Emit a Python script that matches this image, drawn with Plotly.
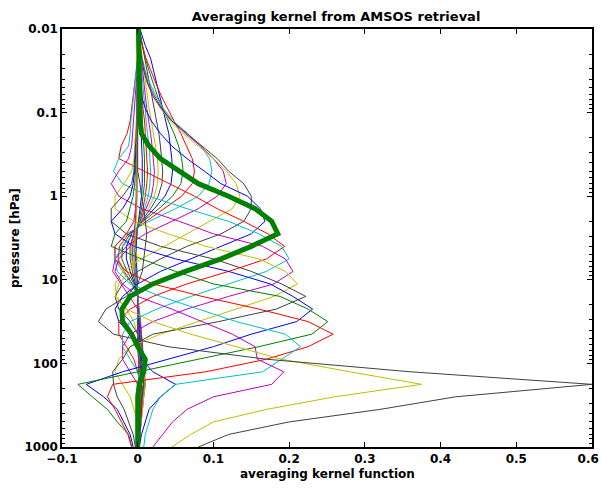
import plotly.graph_objects as go

# pressure levels [hPa], top to bottom
pressure_hpa = [0.01, 0.0158, 0.0224, 0.0316, 0.0447, 0.0631, 0.0891, 0.126, 0.178, 0.251,
                0.355, 0.501, 0.708, 1.0, 1.41, 2.0, 2.82, 3.98, 5.62, 7.94,
                11.2, 15.8, 22.4, 31.6, 44.7, 63.1, 89.1, 126, 178, 251,
                355, 501, 708, 1000]

# averaging kernel rows (one per retrieval level, top to bottom)
ak01 = [0.000,0.001,0.001,0.002,0.002,0.003,0.003,0.004,0.005,0.005,0.006,0.006,0.006,0.005,0.003,0.001,-0.001,-0.002,-0.002,-0.001,0.000,0.000,0.000,0.000,0.000,0.000,0.001,0.001,0.001,0.001,0.000,0.000,0.000,0.000]
ak02 = [0.000,0.001,0.002,0.003,0.003,0.004,0.005,0.006,0.007,0.008,0.009,0.009,0.009,0.007,0.005,0.001,-0.001,-0.003,-0.003,-0.002,-0.001,0.000,0.000,0.000,0.001,0.001,0.001,0.001,0.001,0.001,0.001,0.000,0.000,0.000]
ak03 = [0.001,0.002,0.003,0.004,0.005,0.006,0.007,0.009,0.010,0.011,0.012,0.013,0.012,0.010,0.007,0.002,-0.002,-0.004,-0.004,-0.003,-0.001,0.000,0.000,0.001,0.001,0.001,0.001,0.002,0.002,0.001,0.001,0.001,0.000,0.000]
ak04 = [0.001,0.002,0.004,0.005,0.006,0.008,0.010,0.011,0.013,0.015,0.016,0.017,0.016,0.014,0.009,0.003,-0.003,-0.005,-0.005,-0.003,-0.001,0.000,0.000,0.001,0.001,0.001,0.002,0.002,0.002,0.002,0.001,0.001,0.000,0.000]
ak05 = [0.001,0.003,0.005,0.007,0.008,0.010,0.012,0.015,0.017,0.019,0.021,0.022,0.021,0.018,0.011,0.003,-0.003,-0.007,-0.007,-0.004,-0.002,0.000,0.000,0.001,0.001,0.002,0.002,0.003,0.003,0.002,0.002,0.001,0.001,0.000]
ak06 = [0.001,0.004,0.006,0.008,0.010,0.013,0.015,0.018,0.021,0.023,0.026,0.027,0.026,0.022,0.014,0.004,-0.004,-0.008,-0.008,-0.005,-0.002,0.000,0.001,0.001,0.002,0.002,0.003,0.003,0.004,0.003,0.002,0.001,0.001,0.000]
ak07 = [0.002,0.006,0.010,0.013,0.016,0.019,0.022,0.025,0.028,0.030,0.032,0.033,0.032,0.027,0.017,0.005,-0.005,-0.010,-0.010,-0.007,-0.003,0.000,0.001,0.001,0.002,0.003,0.003,0.004,0.004,0.003,0.002,0.002,0.001,0.000]
ak08 = [0.003,0.010,0.017,0.021,0.025,0.029,0.033,0.037,0.041,0.043,0.045,0.046,0.044,0.036,0.022,0.006,-0.008,-0.015,-0.015,-0.010,-0.004,0.000,0.001,0.002,0.003,0.004,0.004,0.005,0.005,0.004,0.003,0.002,0.001,0.001]
ak09 = [0.002,0.006,0.010,0.015,0.020,0.026,0.033,0.041,0.048,0.054,0.058,0.060,0.057,0.046,0.028,0.007,-0.010,-0.020,-0.021,-0.014,-0.005,0.000,0.002,0.003,0.004,0.005,0.006,0.006,0.007,0.005,0.004,0.003,0.002,0.001]
ak10 = [0.002,0.006,0.011,0.017,0.024,0.031,0.039,0.048,0.057,0.065,0.072,0.075,0.072,0.058,0.035,0.010,-0.012,-0.024,-0.026,-0.018,-0.007,0.000,0.002,0.004,0.005,0.006,0.007,0.008,0.008,0.006,0.004,0.003,0.002,0.001]
ak11 = [0.001,0.003,0.006,0.010,0.016,0.024,0.034,0.047,0.066,0.083,0.095,0.098,0.094,0.080,0.050,0.015,-0.015,-0.030,-0.030,-0.020,-0.008,0.000,0.002,0.004,0.005,0.006,0.007,0.008,0.009,0.007,0.005,0.004,0.003,0.002]
ak12 = [0.001,0.003,0.005,0.009,0.014,0.022,0.032,0.045,0.063,0.083,0.100,0.113,0.117,0.105,0.080,0.045,0.010,-0.015,-0.030,-0.033,-0.022,-0.010,0.000,0.003,0.005,0.006,0.008,0.009,0.010,0.008,0.006,0.004,0.003,0.002]
ak13 = [0.001,0.003,0.005,0.008,0.013,0.020,0.030,0.043,0.060,0.080,0.100,0.117,0.130,0.135,0.125,0.095,0.065,0.035,0.005,-0.020,-0.030,-0.028,-0.015,-0.005,0.000,0.004,0.006,0.008,0.010,0.008,0.006,0.004,0.003,0.002]
ak14 = [0.001,0.003,0.005,0.008,0.013,0.020,0.031,0.045,0.065,0.086,0.105,0.120,0.140,0.150,0.150,0.140,0.110,0.065,0.030,0.000,-0.020,-0.030,-0.025,-0.010,0.000,0.003,0.005,0.006,0.008,0.006,0.005,0.004,0.003,0.002]
ak15 = [0.000,0.002,0.003,0.004,0.004,0.005,0.010,0.018,0.030,0.045,0.065,0.088,0.110,0.145,0.162,0.168,0.150,0.110,0.070,0.030,0.000,-0.020,-0.030,-0.025,-0.010,0.000,0.005,0.020,0.050,0.030,0.015,0.010,0.005,0.002]
ak16 = [0.001,0.001,0.002,0.002,0.002,0.003,0.003,0.003,0.005,0.015,0.030,0.055,0.080,0.120,0.155,0.177,0.185,0.150,0.110,0.063,0.020,-0.010,-0.021,-0.020,-0.008,0.000,0.010,0.008,0.002,0.000,0.000,0.000,0.000,0.000]
ak17 = [0.000,0.000,0.000,-0.002,-0.004,-0.006,-0.008,-0.010,-0.014,-0.022,-0.025,0.008,0.040,0.075,0.105,0.140,0.172,0.194,0.170,0.120,0.065,0.020,-0.010,-0.025,-0.025,-0.015,-0.005,0.000,0.005,0.004,0.003,0.002,0.001,0.000]
ak18 = [0.000,0.000,0.000,-0.002,-0.004,-0.006,-0.008,-0.009,-0.010,-0.012,-0.025,-0.032,-0.020,0.015,0.065,0.120,0.160,0.190,0.200,0.170,0.120,0.070,0.025,-0.010,-0.020,-0.020,-0.010,0.000,0.003,0.003,0.002,0.001,0.001,0.000]
ak19 = [0.000,0.000,0.000,0.000,-0.002,-0.003,-0.005,-0.006,-0.007,-0.008,-0.012,-0.025,-0.035,-0.025,0.005,0.055,0.100,0.165,0.195,0.205,0.180,0.120,0.065,0.020,-0.010,-0.020,-0.020,-0.010,0.000,0.002,0.002,0.001,0.000,0.000]
ak20 = [0.000,0.000,0.000,0.000,0.000,0.000,-0.001,-0.002,-0.003,-0.004,-0.005,-0.008,-0.018,-0.030,-0.030,-0.005,0.040,0.090,0.160,0.195,0.211,0.180,0.130,0.080,0.030,-0.010,-0.025,-0.030,-0.020,-0.010,-0.005,0.000,0.000,0.000]
ak21 = [0.000,0.000,0.000,0.000,0.000,0.000,0.000,-0.001,-0.002,-0.003,-0.004,-0.005,-0.008,-0.020,-0.035,-0.035,-0.015,0.030,0.100,0.150,0.190,0.222,0.183,0.107,0.020,-0.010,-0.020,-0.033,-0.032,-0.027,-0.018,-0.012,-0.006,-0.003]
ak22 = [0.000,0.000,0.000,0.000,0.000,0.000,0.000,0.000,-0.001,-0.002,-0.003,-0.004,-0.006,-0.010,-0.020,-0.035,-0.030,-0.005,0.050,0.120,0.175,0.205,0.231,0.210,0.150,0.100,0.040,-0.020,-0.068,-0.045,-0.027,-0.018,-0.010,-0.006]
ak23 = [0.000,0.000,0.000,0.000,0.000,0.000,0.000,0.000,0.000,-0.001,-0.002,-0.003,-0.004,-0.006,-0.010,-0.015,-0.030,-0.035,0.005,0.050,0.100,0.188,0.225,0.251,0.230,0.160,0.080,0.000,-0.079,-0.060,-0.040,-0.027,-0.012,-0.008]
ak24 = [0.000,0.000,0.000,0.000,0.000,0.000,0.000,0.000,0.000,0.000,-0.001,-0.001,-0.002,-0.002,-0.003,-0.005,-0.015,-0.030,-0.030,-0.015,0.020,0.085,0.160,0.225,0.258,0.225,0.170,0.090,-0.033,-0.040,-0.030,-0.022,-0.013,-0.008]
ak25 = [0.000,0.000,0.000,0.000,0.000,0.000,0.000,0.000,0.000,0.000,0.000,-0.001,-0.001,-0.002,-0.002,-0.003,-0.005,-0.020,-0.030,-0.027,-0.010,0.030,0.080,0.130,0.195,0.215,0.190,0.165,0.050,0.030,0.020,0.015,0.010,0.008]
ak26 = [0.000,0.000,0.000,0.000,0.000,0.000,0.000,0.000,0.000,0.000,0.000,0.000,-0.001,-0.001,-0.002,-0.003,-0.005,-0.010,-0.025,-0.030,-0.020,0.000,0.045,0.085,0.125,0.155,0.158,0.193,0.177,0.100,0.065,0.046,0.033,0.020]
ak27 = [0.000,0.000,0.000,0.000,0.000,0.000,0.000,0.000,0.000,0.000,0.000,0.000,0.000,-0.001,-0.001,-0.002,-0.003,-0.004,0.000,-0.010,-0.025,-0.030,-0.015,0.020,0.070,0.130,0.190,0.280,0.375,0.260,0.170,0.100,0.070,0.045]
ak28 = [0.000,0.000,0.000,0.000,0.000,0.000,0.000,0.000,0.000,0.000,0.000,0.000,0.003,0.005,0.008,0.010,0.012,0.010,0.008,0.006,0.000,-0.015,-0.042,-0.052,-0.032,0.040,0.170,0.360,0.600,0.420,0.320,0.200,0.120,0.080]

kernels = [ak01, ak02, ak03, ak04, ak05, ak06, ak07, ak08, ak09, ak10, ak11, ak12, ak13, ak14,
           ak15, ak16, ak17, ak18, ak19, ak20, ak21, ak22, ak23, ak24, ak25, ak26, ak27, ak28]
for k in kernels:
    assert len(k) == len(pressure_hpa)

highlight_index = 15  # ak16, drawn thick

# MATLAB classic colour order
color_order = ["#0000FF", "#008000", "#FF0000", "#00BFBF", "#BF00BF", "#BFBF00", "#404040"]

x_ticks = [-0.1, 0, 0.1, 0.2, 0.3, 0.4, 0.5, 0.6]
x_tick_labels = ["\u22120.1", "0", "0.1", "0.2", "0.3", "0.4", "0.5", "0.6"]
y_ticks = [0.01, 0.1, 1, 10, 100, 1000]
y_tick_labels = ["0.01", "0.1", "1", "10", "100", "1000"]
y_minor = [m * 10 ** e for e in range(-2, 3) for m in range(2, 10)]

fig = go.Figure()
for i, k in enumerate(kernels):
    if i == highlight_index:
        continue
    fig.add_trace(go.Scatter(x=k, y=pressure_hpa, mode="lines",
                             line=dict(color=color_order[i % 7], width=1),
                             showlegend=False, hoverinfo="skip"))
fig.add_trace(go.Scatter(x=kernels[highlight_index], y=pressure_hpa, mode="lines",
                         line=dict(color="#008000", width=5),
                         showlegend=False, hoverinfo="skip"))

font_family = "DejaVu Sans, Liberation Sans, Arial, sans-serif"
W, H = 601, 488
L, R, T, B = 62, 9, 29, 41
pw, ph = W - L - R, H - T - B

# last x label is padded so it stays inside the page edge
x_text = ["<b>%s</b>" % t for t in x_tick_labels]
x_text[-1] = x_text[-1] + "\u00a0\u00a0"

fig.update_layout(
    width=W, height=H,
    margin=dict(l=L, r=R, t=T, b=B, autoexpand=False),
    paper_bgcolor="white", plot_bgcolor="white",
    font=dict(family=font_family, size=12, color="black"),
    title=dict(text="<b>Averaging kernel from AMSOS retrieval</b>",
               x=336 / W, xref="container", xanchor="center",
               y=1 - 16 / H, yref="container", yanchor="middle",
               font=dict(size=13, family=font_family, color="black")),
    annotations=[
        dict(text="<b>averaging kernel function</b>", xref="paper", yref="paper",
             x=0.5, y=-(474 - (T + ph)) / ph, xanchor="center", yanchor="middle",
             showarrow=False, font=dict(size=12, family=font_family, color="black")),
        dict(text="<b>pressure [hPa]</b>", xref="paper", yref="paper",
             x=-(L - 15) / pw, y=0.5, xanchor="center", yanchor="middle", textangle=-90,
             showarrow=False, font=dict(size=12, family=font_family, color="black")),
    ],
)
fig.update_xaxes(
    range=[-0.1, 0.6], tickvals=x_ticks, ticktext=x_text,
    ticks="inside", ticklen=5, tickwidth=1, tickcolor="black",
    showline=True, linecolor="black", linewidth=1.5, mirror="ticks",
    showgrid=False, zeroline=False, automargin=False, ticklabeloverflow="allow",
    tickfont=dict(size=12, family=font_family),
)
fig.update_yaxes(
    type="log", range=[3, -2], tickvals=y_ticks, ticktext=["<b>%s</b>" % t for t in y_tick_labels],
    ticks="inside", ticklen=5, tickwidth=1, tickcolor="black",
    minor=dict(tickvals=y_minor, ticks="inside", ticklen=3, tickwidth=1, tickcolor="black", showgrid=False),
    showline=True, linecolor="black", linewidth=1.5, mirror="ticks",
    showgrid=False, zeroline=False, automargin=False, ticklabeloverflow="allow",
    tickfont=dict(size=12, family=font_family),
)

fig.write_html("out.html", config={"displayModeBar": False},
               post_script="document.body.style.margin='0px';document.body.style.overflow='hidden';")
